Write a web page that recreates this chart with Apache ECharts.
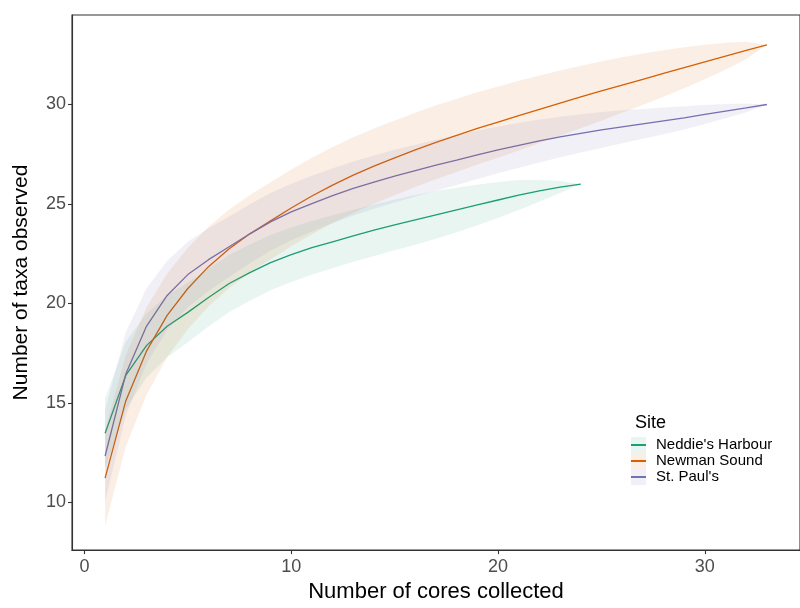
<!DOCTYPE html>
<html>
<head>
<meta charset="utf-8">
<script src="https://cdn.jsdelivr.net/npm/echarts@6/dist/echarts.min.js"></script>
<style>
  html, body { margin: 0; padding: 0; background: #fff; }
  #chart { width: 800px; height: 608px; }
</style>
</head>
<body>
<div id="chart"></div>
<script>
// Species accumulation: mean taxa observed per number of cores, with a +/- band
const sites = ["Neddie's Harbour", "Newman Sound", "St. Paul's"];
const siteColors = ['#1B9E77', '#D95F02', '#7570B3'];

const coresNeddie = [1,2,3,4,5,6,7,8,9,10,11,12,13,14,15,16,17,18,19,20,21,22,23,24];
const coresNewman = [1,2,3,4,5,6,7,8,9,10,11,12,13,14,15,16,17,18,19,20,21,22,23,24,25,26,27,28,29,30,31,32,33];
const coresStPaul = [1,2,3,4,5,6,7,8,9,10,11,12,13,14,15,16,17,18,19,20,21,22,23,24,25,26,27,28,29,30,31,32,33];

const taxaNeddie = [13.47,16.38,17.88,18.85,19.55,20.3,21.0,21.55,22.05,22.45,22.8,23.1,23.4,23.68,23.95,24.2,24.45,24.7,24.95,25.2,25.45,25.66,25.85,26.0];
const bandNeddie = [1.75,1.7,1.62,1.56,1.5,1.46,1.43,1.41,1.39,1.37,1.35,1.33,1.31,1.29,1.27,1.25,1.2,1.12,1.02,0.9,0.75,0.55,0.3,0];

const taxaNewman = [11.22,15.1,17.6,19.4,20.75,21.85,22.75,23.5,24.15,24.8,25.4,25.95,26.45,26.9,27.32,27.72,28.1,28.45,28.8,29.12,29.44,29.76,30.07,30.38,30.68,30.98,31.27,31.56,31.85,32.14,32.43,32.72,33.0];
const bandNewman = [2.4,2.3,2.2,2.1,2.05,2.0,1.97,1.95,1.94,1.93,1.92,1.91,1.9,1.89,1.88,1.87,1.86,1.84,1.82,1.79,1.75,1.7,1.64,1.57,1.49,1.4,1.29,1.17,1.03,0.87,0.68,0.44,0];

const taxaStPaul = [12.33,16.45,18.85,20.4,21.45,22.2,22.85,23.5,24.1,24.6,25.02,25.42,25.78,26.1,26.4,26.68,26.95,27.2,27.47,27.72,27.95,28.17,28.37,28.55,28.72,28.88,29.03,29.18,29.33,29.5,29.67,29.83,30.0];
const bandStPaul = [2.3,2.1,1.9,1.75,1.65,1.58,1.52,1.48,1.45,1.42,1.4,1.38,1.36,1.34,1.32,1.3,1.28,1.25,1.22,1.18,1.13,1.08,1.02,0.96,0.9,0.83,0.75,0.67,0.58,0.48,0.36,0.22,0];

const xTicks = [0, 10, 20, 30];
const yTicks = [10, 15, 20, 25, 30];

const siteData = [
  { x: coresNeddie, y: taxaNeddie, band: bandNeddie },
  { x: coresNewman, y: taxaNewman, band: bandNewman },
  { x: coresStPaul, y: taxaStPaul, band: bandStPaul }
];

const FONT = '"Liberation Sans", Arial, sans-serif';

function hexToRgba(hex, a) {
  const n = parseInt(hex.slice(1), 16);
  return 'rgba(' + ((n >> 16) & 255) + ',' + ((n >> 8) & 255) + ',' + (n & 255) + ',' + a + ')';
}

const lineSeries = siteData.map((d, i) => ({
  name: sites[i],
  type: 'line',
  data: d.x.map((xv, k) => [xv, d.y[k]]),
  symbol: 'none',
  smooth: false,
  lineStyle: { width: 1.3, color: siteColors[i] },
  itemStyle: { color: siteColors[i] },
  z: 2
}));

// confidence ribbons drawn as polygons over the lines
const ribbonSeries = siteData.map((d, i) => ({
  name: sites[i] + ' band',
  type: 'custom',
  data: [[d.x[0], d.y[0]]],
  silent: true,
  z: 3,
  renderItem: function (params, api) {
    const upper = d.x.map((xv, k) => api.coord([xv, d.y[k] + d.band[k]]));
    const lower = d.x.map((xv, k) => api.coord([xv, d.y[k] - d.band[k]])).reverse();
    return {
      type: 'polygon',
      shape: { points: upper.concat(lower) },
      style: { fill: hexToRgba(siteColors[i], 0.1), stroke: null }
    };
  }
}));

const axisStroke = { color: '#333', width: 1.1 };

const chart = echarts.init(document.getElementById('chart'), null, { renderer: 'canvas' });

chart.setOption({
  animation: false,
  backgroundColor: '#fff',
  textStyle: { fontFamily: FONT },
  grid: {
    left: 72, top: 15, right: -11.2, bottom: 54,
    show: true, borderColor: '#333', borderWidth: 1.1, backgroundColor: 'transparent'
  },
  title: {
    text: 'Site', left: 630, top: 409,
    textStyle: { fontFamily: FONT, fontSize: 18, fontWeight: 'normal', color: '#000' }
  },
  legend: {
    data: sites,
    orient: 'vertical',
    left: 631, top: 437,
    icon: 'rect',
    itemWidth: 15, itemHeight: 2,
    itemGap: 0,
    padding: 0,
    selectedMode: false,
    textStyle: { fontFamily: FONT, fontSize: 15, color: '#000', lineHeight: 16, padding: [0, 0, 0, 5] }
  },
  graphic: siteColors.map((c, i) => ({
    type: 'rect', left: 631, top: 437 + i * 16, z: -1,
    shape: { width: 15, height: 16 },
    style: { fill: hexToRgba(c, 0.1) }
  })),
  xAxis: {
    type: 'value', min: -0.6, max: 34.6,
    name: 'Number of cores collected', nameLocation: 'middle', nameGap: 29,
    nameTextStyle: { fontFamily: FONT, fontSize: 22, color: '#000' },
    axisLine: { show: true, onZero: false, lineStyle: axisStroke },
    axisTick: { show: true, inside: false, length: 4, lineStyle: axisStroke, customValues: xTicks },
    axisLabel: { fontFamily: FONT, fontSize: 18, color: '#4D4D4D', margin: 8, customValues: xTicks },
    splitLine: { show: false }
  },
  yAxis: {
    type: 'value', min: 7.6, max: 34.5,
    name: 'Number of taxa observed', nameLocation: 'middle', nameGap: 40, nameRotate: 90,
    nameTextStyle: { fontFamily: FONT, fontSize: 21, color: '#000' },
    axisLine: { show: true, onZero: false, lineStyle: axisStroke },
    axisTick: { show: true, inside: false, length: 4, lineStyle: axisStroke, customValues: yTicks },
    axisLabel: { fontFamily: FONT, fontSize: 18, color: '#4D4D4D', margin: 6, customValues: yTicks },
    splitLine: { show: false }
  },
  series: lineSeries.concat(ribbonSeries)
});
</script>
</body>
</html>
